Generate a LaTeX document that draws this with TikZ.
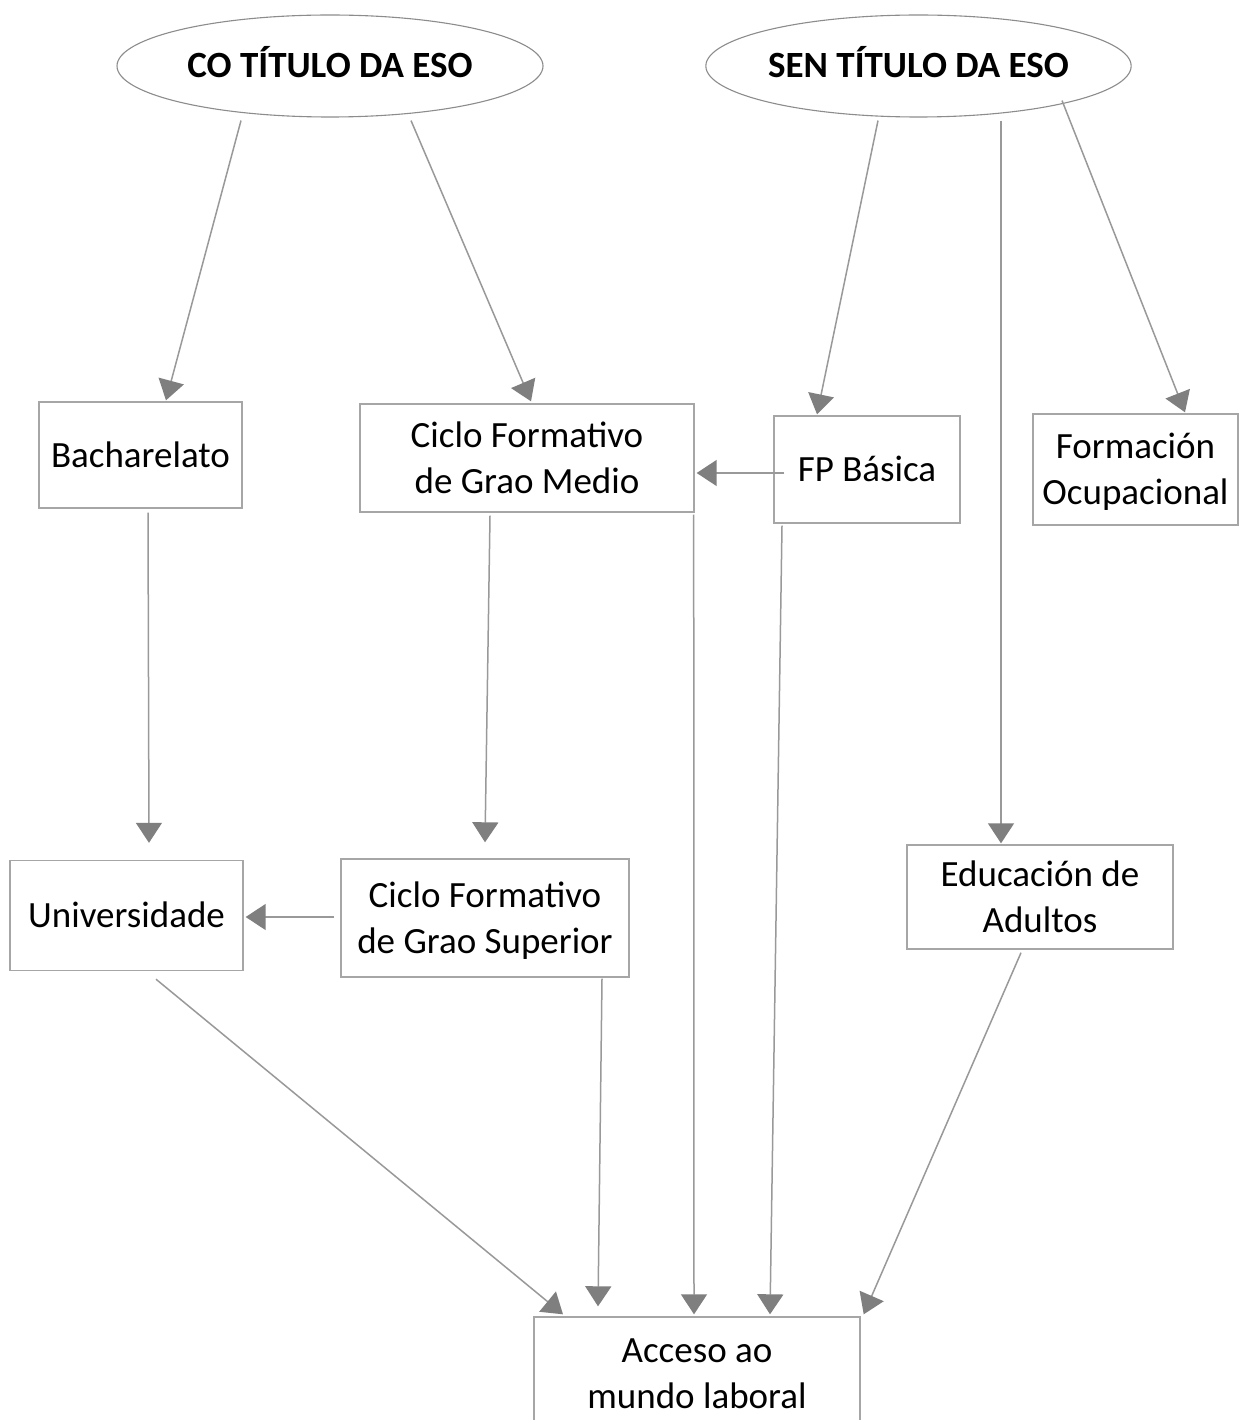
\documentclass[tikz,border=0pt]{standalone}
\usepackage{fontspec}
\setmainfont{Carlito}
\usetikzlibrary{arrows.meta,shapes.geometric,calc}
\definecolor{boxgray}{HTML}{A6A6A6}
\definecolor{linegray}{HTML}{999999}
\definecolor{headgray}{HTML}{7F7F7F}
\definecolor{ellgray}{HTML}{8C8C8C}
\newcommand{\boxtext}[1]{\raisebox{-3pt}[\height][\depth]{\begin{tabular}{@{}c@{}}#1\end{tabular}}}
\newcommand{\ovaltext}[1]{\raisebox{4pt}[\height][\depth]{#1}}
\begin{document}
\begin{tikzpicture}[x=1pt,y=-1pt,
  every node/.style={font=\fontsize{37}{46}\selectfont, align=center, inner sep=0pt},
  oval/.style={ellipse, draw=ellgray, line width=1.1pt, font=\fontsize{37}{46}\selectfont\bfseries},
  stepbox/.style={rectangle, draw=boxgray, line width=1.4pt},
  conn/.style={draw=linegray, line width=1.5pt, -{Triangle[width=26pt,length=20pt,color=headgray]}}
]
\useasboundingbox (0,0) rectangle (1242,1420);
\clip (0,0) rectangle (1242,1420);
\fill[white] (0,0) rectangle (1242,1420);

\node[oval, minimum width=426pt, minimum height=102pt] (CO) at (330,66) {\ovaltext{CO TÍTULO DA ESO}};
\node[oval, minimum width=425pt, minimum height=102pt] (SEN) at (918.5,66) {\ovaltext{SEN TÍTULO DA ESO}};

\node[stepbox, minimum width=203pt, minimum height=106pt] (bach) at (140.5,455) {\boxtext{Bacharelato}};
\node[stepbox, minimum width=334pt, minimum height=108pt] (medio) at (527,458) {\boxtext{Ciclo Formativo\\de Grao Medio}};
\node[stepbox, minimum width=186pt, minimum height=107pt] (fpb) at (867,469.5) {\boxtext{FP Básica}};
\node[stepbox, minimum width=205pt, minimum height=111pt] (formoc) at (1135.5,469.5) {\boxtext{Formación\\Ocupacional}};

\node[stepbox, minimum width=233pt, minimum height=110pt] (univ) at (126.5,915.5) {\boxtext{Universidade}};
\node[stepbox, minimum width=288pt, minimum height=118pt] (super) at (485,918) {\boxtext{Ciclo Formativo\\de Grao Superior}};
\node[stepbox, minimum width=266pt, minimum height=104pt] (adult) at (1040,897) {\boxtext{Educación de\\Adultos}};

\node[stepbox, minimum width=326pt, minimum height=112pt] (acceso) at (697,1373) {\boxtext{Acceso ao\\mundo laboral}};

% connectors
\draw[conn] ($(CO.south)+(-89,3)$) -- ($(bach.north)+(25.5,-1)$);
\draw[conn] ($(CO.south)+(81,3)$) -- ($(medio.north)+(4,-2)$);
\draw[conn] ($(SEN.south)+(-40.5,3)$) -- ($(fpb.north)+(-50,-1)$);
\draw[conn] ($(SEN.south)+(82.5,3)$) -- ($(adult.north)+(-39,-1)$);
\draw[conn] ($(SEN.south)+(143.5,-17)$) -- ($(formoc.north)+(49.5,-1)$);

\draw[conn] ($(bach.south)+(7.5,4)$) -- ($(univ.north)+(22.5,-17)$);
\draw[conn] ($(medio.south)+(-37,3)$) -- ($(super.north)+(0,-16)$);
\draw[conn] ($(fpb.west)+(11,3.5)$) -- ($(medio.east)+(2,15)$);
\draw[conn] ($(super.west)+(-6,-1)$) -- ($(univ.east)+(2,1.5)$);

\draw[conn] ($(univ.south)+(29.5,8)$) -- ($(acceso.north)+(-134,-2)$);
\draw[conn] ($(super.south)+(117,1)$) -- ($(acceso.north)+(-99,-10)$);
\draw[conn] ($(medio.south east)+(-1,2)$) -- ($(acceso.north)+(-3,-2)$);
\draw[conn] ($(fpb.south)+(-85,2)$) -- ($(acceso.north)+(73,-2)$);
\draw[conn] ($(adult.south)+(-19,3)$) -- ($(acceso.north east)+(3,-2)$);
\end{tikzpicture}
\end{document}
